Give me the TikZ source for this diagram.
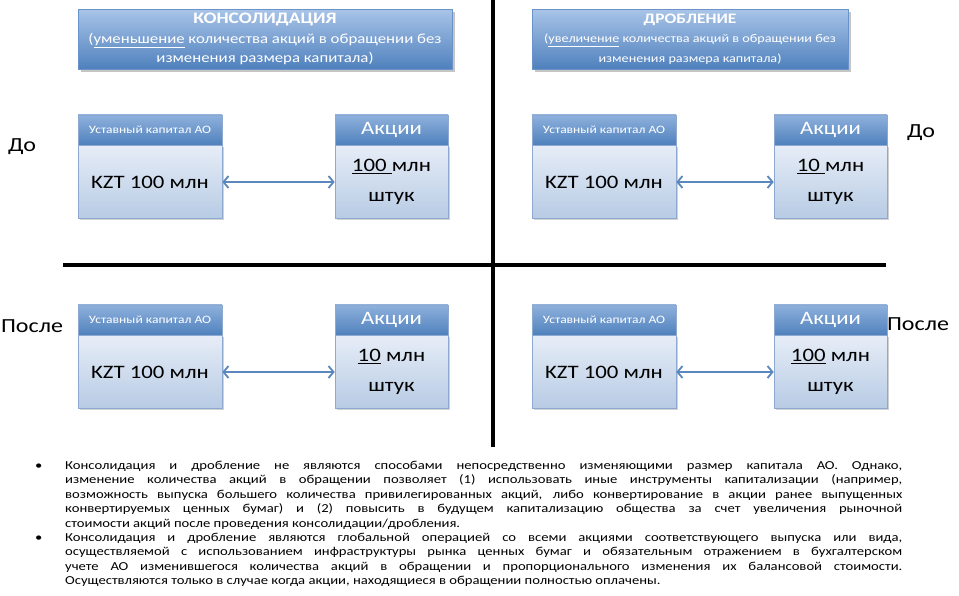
\documentclass[tikz,border=0pt]{standalone}
\usepackage{fontspec}
\setmainfont{Carlito}[FakeStretch=1.2]
\usepackage{tikz}
\usetikzlibrary{arrows.meta,positioning,shadows}
\definecolor{hdrtop}{HTML}{A9C4E8}
\definecolor{hdrbot}{HTML}{4F81BD}
\definecolor{hdrline}{HTML}{6A93C9}
\definecolor{bandtop}{HTML}{8FB1DC}
\definecolor{bandbot}{HTML}{4F81BD}
\definecolor{bodytop}{HTML}{E6EDF7}
\definecolor{bodybot}{HTML}{B7CBE4}
\definecolor{boxline}{HTML}{8DA9CF}
\definecolor{linkblue}{HTML}{5B87BF}
\tikzset{
  hdrbox/.style={rectangle, draw=hdrline, line width=0.6pt, top color=hdrtop, bottom color=hdrbot,
                 text=white, align=center, minimum height=60pt, inner sep=0pt,
                 drop shadow={opacity=0.45, shadow xshift=2.5pt, shadow yshift=-2.5pt}},
  boxhead/.style={rectangle, draw=boxline, line width=0.6pt, top color=bandtop, bottom color=bandbot,
                  text=white, minimum width=#1, minimum height=30pt, inner sep=0pt},
  boxbody/.style={rectangle, draw=boxline, line width=0.6pt, top color=bodytop, bottom color=bodybot,
                  minimum width=#1, minimum height=73pt, align=center, inner sep=0pt,
                  font=\fontsize{19}{30}\selectfont,
                  drop shadow={opacity=0.35, shadow xshift=1.5pt, shadow yshift=-1.5pt}},
  link/.style={{Straight Barb[length=5pt,width=12pt]}-{Straight Barb[length=5pt,width=12pt]},
               line width=1.8pt, draw=linkblue},
  divider/.style={line width=3.5pt, draw=black},
  side/.style={font=\fontsize{20}{24}\selectfont, inner sep=0pt},
}

\begin{document}
\begin{tikzpicture}[x=1pt, y=-1pt]
\useasboundingbox[fill=white] (0,0) rectangle (959,595);

\draw[divider] (493,0) -- (493,447);
\draw[divider] (63,265) -- (886,265);

\node[hdrbox, minimum width=374pt, font=\fontsize{14}{19.5}\selectfont] (hdrL) at (265,39)
  {{\fontsize{16}{19.5}\selectfont\textbf{КОНСОЛИДАЦИЯ}}\\(\underline{уменьшение} количества акций в обращении без\\изменения размера капитала)};
\node[hdrbox, minimum width=316pt, font=\fontsize{11.8}{19.5}\selectfont] (hdrR) at (690,39)
  {{\fontsize{14.5}{19.5}\selectfont\textbf{ДРОБЛЕНИЕ}}\\(\underline{увеличение} количества акций в обращении без\\изменения размера капитала)};

\node[boxbody=144pt] (capA) at (150,182) {KZT 100 млн};
\node[boxhead=144pt, above=0pt of capA, font=\fontsize{11.3}{12}\selectfont] (capAh) {Уставный капитал АО};
\node[boxbody=113pt] (shrA) at (391.5,182) {\underline{100 }млн\\штук};
\node[boxhead=113pt, above=0pt of shrA, font=\fontsize{19}{22}\selectfont] (shrAh) {Акции};
\draw[link] (capA) -- (shrA);

\node[boxbody=144pt] (capB) at (604,182) {KZT 100 млн};
\node[boxhead=144pt, above=0pt of capB, font=\fontsize{11.3}{12}\selectfont] (capBh) {Уставный капитал АО};
\node[boxbody=113pt] (shrB) at (830.5,182) {\underline{10 }млн\\штук};
\node[boxhead=113pt, above=0pt of shrB, font=\fontsize{19}{22}\selectfont] (shrBh) {Акции};
\draw[link] (capB) -- (shrB);

\node[boxbody=144pt] (capC) at (150,372) {KZT 100 млн};
\node[boxhead=144pt, above=0pt of capC, font=\fontsize{11.3}{12}\selectfont] (capCh) {Уставный капитал АО};
\node[boxbody=113pt] (shrC) at (391.5,372) {\underline{10} млн\\штук};
\node[boxhead=113pt, above=0pt of shrC, font=\fontsize{19}{22}\selectfont] (shrCh) {Акции};
\draw[link] (capC) -- (shrC);

\node[boxbody=144pt] (capD) at (604,372) {KZT 100 млн};
\node[boxhead=144pt, above=0pt of capD, font=\fontsize{11.3}{12}\selectfont] (capDh) {Уставный капитал АО};
\node[boxbody=113pt] (shrD) at (830.5,372) {\underline{100} млн\\штук};
\node[boxhead=113pt, above=0pt of shrD, font=\fontsize{19}{22}\selectfont] (shrDh) {Акции};
\draw[link] (capD) -- (shrD);

\node[side] (beforeL) at (22,147) {До};
\node[side] (afterL) at (32,326) {После};
\node[side] (beforeR) at (921,133) {До};
\node[side] (afterR) at (918,324) {После};

\node[anchor=north west, inner sep=0pt, text width=837pt, align=justify,
      font=\fontsize{12.2}{14.4}\selectfont] (notes) at (65,461)
  {\hyphenpenalty=10000\exhyphenpenalty=10000
   \leavevmode\llap{\makebox[30pt][l]{•}}Консолидация и дробление не являются способами непосредственно изменяющими размер капитала АО. Однако,\linebreak
   изменение количества акций в обращении позволяет (1) использовать иные инструменты капитализации (например,\linebreak
   возможность выпуска большего количества привилегированных акций, либо конвертирование в акции ранее выпущенных\linebreak
   конвертируемых ценных бумаг) и (2) повысить в будущем капитализацию общества за счет увеличения рыночной\linebreak
   стоимости акций после проведения консолидации/дробления.\par
   \leavevmode\llap{\makebox[30pt][l]{•}}Консолидация и дробление являются глобальной операцией со всеми акциями соответствующего выпуска или вида,\linebreak
   осуществляемой с использованием инфраструктуры рынка ценных бумаг и обязательным отражением в бухгалтерском\linebreak
   учете АО изменившегося количества акций в обращении и пропорционального изменения их балансовой стоимости.\linebreak
   Осуществляются только в случае когда акции, находящиеся в обращении полностью оплачены.};
\end{tikzpicture}
\end{document}
